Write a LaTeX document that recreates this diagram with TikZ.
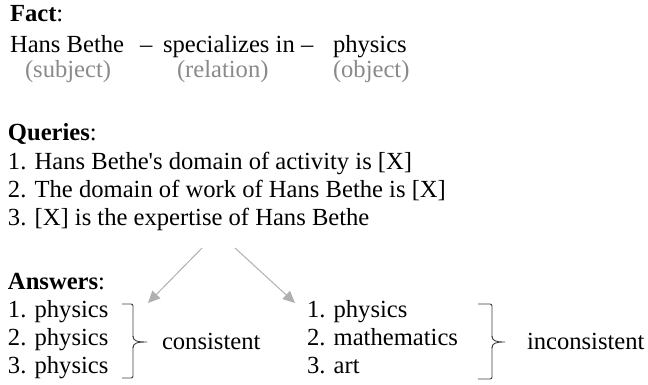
\documentclass[tikz,border=0pt]{standalone}
\usepackage{fontspec}
\newfontfamily\plainserif{Liberation Serif}
\usetikzlibrary{arrows.meta}
\definecolor{lbl}{HTML}{8A8A8A}
\definecolor{arr}{HTML}{B0B0B0}
\definecolor{brk}{HTML}{404040}
\begin{document}
\begin{tikzpicture}[x=1pt,y=-1pt,
  txt/.style={anchor=base west,inner sep=0pt,outer sep=0pt,font=\plainserif\fontsize{24.6}{30}\selectfont},
  gtxt/.style={txt,text=lbl},
  garrow/.style={draw=arr,line width=1pt,-{Triangle[length=12pt,width=11pt]}},
  brace/.style={draw=brk,line width=0.9pt,rounded corners=2pt}]
\useasboundingbox[fill=white] (0,0) rectangle (648,385);
% Fact
\node[txt] (facth) at (10,22) {\textbf{Fact}:};
\node[txt] (subj) at (10,53) {Hans Bethe};
\node[txt] (d1) at (140,53) {–};
\node[txt] (rel) at (163,53) {specializes in};
\node[txt] (d2) at (301,53) {–};
\node[txt] (obj) at (333,53) {physics};
\node[gtxt] (subjl) at (25,78) {(subject)};
\node[gtxt] (rell) at (177,78) {(relation)};
\node[gtxt] (objl) at (333,78) {(object)};
% Queries
\node[txt] (qh) at (8,141) {\textbf{Queries}:};
\node[txt] (q1) at (8,169) {1. Hans Bethe's domain of activity is [X]};
\node[txt] (q2) at (8,197) {2. The domain of work of Hans Bethe is [X]};
\node[txt] (q3) at (8,225) {3. [X] is the expertise of Hans Bethe};
% Answers
\node[txt] (ah) at (8,289) {\textbf{Answers}:};
\node[txt] (l1) at (8,317) {1. physics};
\node[txt] (l2) at (8,345) {2. physics};
\node[txt] (l3) at (8,373) {3. physics};
\node[txt] (r1) at (307,317) {1. physics};
\node[txt] (r2) at (307,345) {2. mathematics};
\node[txt] (r3) at (307,373) {3. art};
\node[txt] (cons) at (162,349) {consistent};
\node[txt] (incons) at (527,349) {inconsistent};
% arrows
\coordinate (as1) at (202,248);
\coordinate (ae1) at (148,303);
\coordinate (as2) at (235,248);
\coordinate (ae2) at (295,303);
\draw[garrow] (as1) -- (ae1);
\draw[garrow] (as2) -- (ae2);
% braces
\draw[brace] (122,304) -- (133,304) -- (133,337);
\draw[draw=brk,line width=0.9pt] (133,336) .. controls (133,341) and (137,342) .. (147,342)
   .. controls (137,342) and (133,343) .. (133,348);
\draw[brace] (133,347) -- (133,378) -- (122,378);
\draw[brace] (478,304) -- (492,304) -- (492,337);
\draw[draw=brk,line width=0.9pt] (492,336) .. controls (492,341) and (496,342) .. (505,342)
   .. controls (496,342) and (492,343) .. (492,348);
\draw[brace] (492,347) -- (492,379) -- (478,379);
\end{tikzpicture}
\end{document}
